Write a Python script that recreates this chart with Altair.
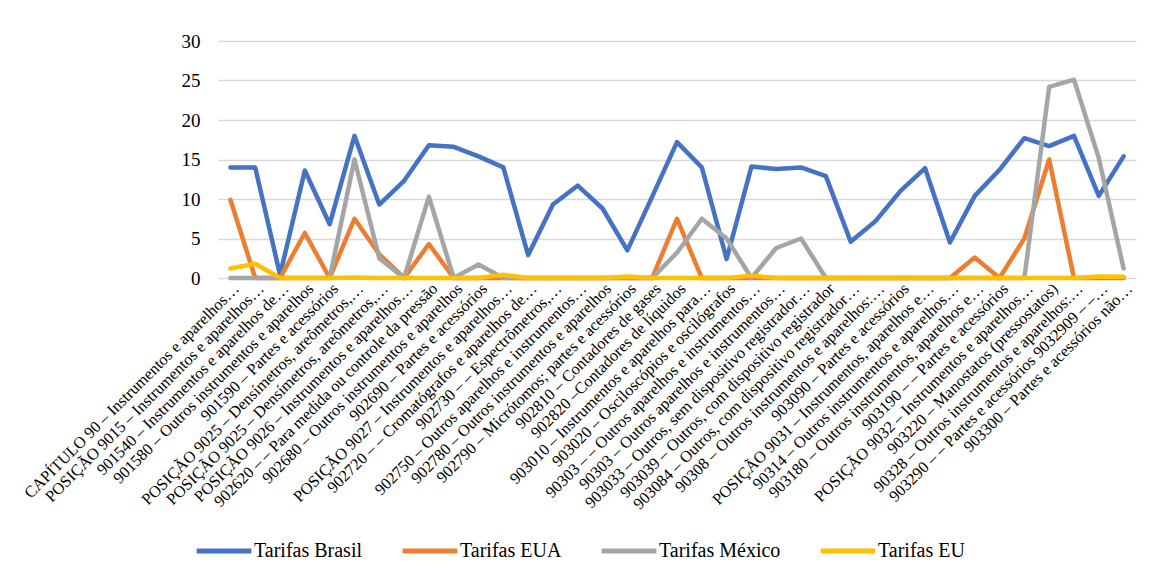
import altair as alt
import pandas as pd

categories = [
    "CAPÍTULO 90 – Instrumentos e aparelhos…",
    "POSIÇÃO 9015 – Instrumentos e aparelhos…",
    "901540 – Instrumentos e aparelhos de…",
    "901580 – Outros instrumentos e aparelhos",
    "901590 – Partes e acessórios",
    "POSIÇÃO 9025 – Densímetros, areômetros,…",
    "POSIÇÃO 9025 – Densímetros, areômetros,… ",
    "POSIÇÃO 9026 – Instrumentos e aparelhos…",
    "902620 – – Para medida ou controle da pressão",
    "902680 – Outros instrumentos e aparelhos",
    "902690 – Partes e acessórios",
    "POSIÇÃO 9027 – Instrumentos e aparelhos…",
    "902720 – – Cromatógrafos e aparelhos de…",
    "902730 – – Espectrômetros,…",
    "902750 – Outros aparelhos e instrumentos…",
    "902780 – Outros instrumentos e aparelhos",
    "902790 – Micrótomos; partes e acessórios",
    "902810 – Contadores de gases",
    "902820 –Contadores de líquidos",
    "903010 – Instrumentos e aparelhos para…",
    "903020 – Osciloscópios e oscilógrafos",
    "90303 – – Outros aparelhos e instrumentos…",
    "90303 – Outros aparelhos e instrumentos…",
    "903033 – Outros, sem dispositivo registrador…",
    "903039 – Outros, com dispositivo registrador",
    "903084 – Outros, com dispositivo registrador…",
    "90308 – Outros instrumentos e aparelhos:…",
    "903090 – Partes e acessórios",
    "POSIÇÃO 9031 – Instrumentos, aparelhos e…",
    "90314 – Outros instrumentos e aparelhos…",
    "903180 – Outros instrumentos, aparelhos e…",
    "903190 – – Partes e acessórios",
    "POSIÇÃO 9032 – Instrumentos e aparelhos…",
    "903220 – Manostatos (pressostatos)",
    "90328 – Outros instrumentos e aparelhos:…",
    "903290 – – Partes e acessórios 9032909 – –…",
    "903300 – Partes e acessórios não…",
]

tarifas_brasil = [14.0, 14.0, 0.4, 13.6, 6.8, 18.0, 9.3, 12.3, 16.8, 16.6, 15.4, 14.0,
                  2.9, 9.3, 11.7, 8.8, 3.5, 10.3, 17.2, 14.0, 2.4, 14.1, 13.8, 14.0,
                  12.9, 4.6, 7.2, 11.0, 13.9, 4.5, 10.4, 13.7, 17.7, 16.7, 18.0, 10.4, 15.4]
tarifas_eua = [9.9, 0, 0, 5.7, 0, 7.5, 3.0, 0, 4.3, 0, 0, 0,
               0, 0, 0, 0, 0, 0, 7.5, 0, 0, 0, 0, 0,
               0, 0, 0, 0, 0, 0, 2.6, 0, 5.0, 15.0, 0, 0, 0]
tarifas_mexico = [0, 0, 0, 0, 0, 15.0, 2.5, 0, 10.3, 0, 1.7, 0,
                  0, 0, 0, 0, 0, 0, 3.2, 7.5, 5.0, 0, 3.8, 5.0,
                  0, 0, 0, 0, 0, 0, 0, 0, 0, 24.2, 25.1, 15.2, 1.2]
tarifas_eu = [1.2, 1.8, 0, 0, 0, 0.05, 0, 0, 0, 0, 0, 0.4,
              0, 0, 0, 0, 0.2, 0, 0, 0, 0, 0.3, 0, 0,
              0, 0, 0, 0, 0, 0, 0, 0, 0, 0, 0, 0.2, 0.15]

series_names = ["Tarifas Brasil", "Tarifas EUA", "Tarifas México", "Tarifas EU"]
series_values = [tarifas_brasil, tarifas_eua, tarifas_mexico, tarifas_eu]
colors = ["#4472C4", "#ED7D31", "#A5A5A5", "#FFC000"]
y_ticks = [0, 5, 10, 15, 20, 25, 30]

rows = []
for s_idx, (name, vals) in enumerate(zip(series_names, series_values)):
    for c_idx, (cat, v) in enumerate(zip(categories, vals)):
        rows.append({"categoria": cat, "valor": v, "serie": name, "ordem": s_idx, "idx": c_idx})
df = pd.DataFrame(rows)

FONT = "Times New Roman, Liberation Serif, serif"

chart = alt.Chart(df).mark_line(
    strokeWidth=4.5, strokeCap="round", strokeJoin="round"
).encode(
    x=alt.X("categoria:N", sort=categories,
            scale=alt.Scale(type="point", padding=0.5),
            axis=alt.Axis(title=None, labelAngle=-45, labelAlign="right",
                          labelBaseline="top", labelFont=FONT, labelFontSize=16.3,
                          labelColor="#000000", labelLimit=600, labelOverlap=False,
                          ticks=False, domain=False, grid=False, labelPadding=2)),
    y=alt.Y("valor:Q", scale=alt.Scale(domain=[0, 30], nice=False),
            axis=alt.Axis(title=None, values=y_ticks, labelFont=FONT, labelFontSize=19,
                          labelColor="#000000", ticks=False, domain=False,
                          gridColor="#D9D9D9", gridWidth=1.4, labelPadding=18)),
    color=alt.Color("serie:N", sort=series_names,
                    scale=alt.Scale(domain=series_names, range=colors),
                    legend=alt.Legend(title=None, orient="none", direction="horizontal",
                                      legendX=-24, legendY=480, columns=4,
                                      symbolType="stroke", symbolSize=3000,
                                      symbolStrokeWidth=5, labelFont=FONT,
                                      labelFontSize=20, labelColor="#000000",
                                      columnPadding=29, labelOffset=0,
                                      labelLimit=300)),
    order=alt.Order("ordem:Q"),
    detail="serie:N",
).properties(
    width=918, height=237,
    autosize=alt.AutoSizeParams(type="none"),
    padding={"left": 210, "top": 33, "right": 6, "bottom": 294},
).configure(background="white", font=FONT).configure_view(stroke=None)

chart.save("out.html", embed_options={"renderer": "svg", "actions": False})
